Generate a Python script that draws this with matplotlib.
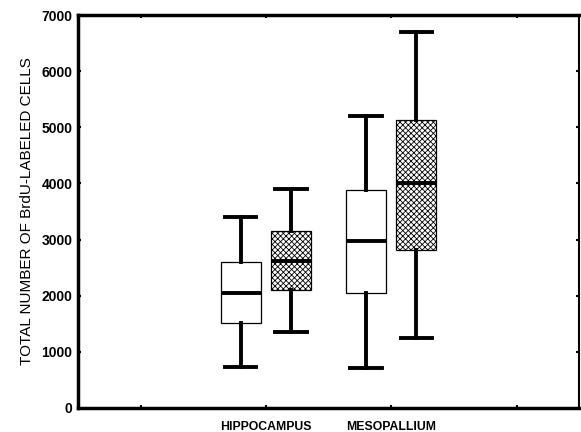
import matplotlib
matplotlib.use("Agg")
import matplotlib.pyplot as plt

plt.rcParams['font.family'] = ['Liberation Sans', 'DejaVu Sans']
plt.rcParams['hatch.linewidth'] = 0.6

# Data
regions = ["HIPPOCAMPUS", "MESOPALLIUM"]
groups = ["white", "hatched"]
whislo = [730, 1350, 710, 1250]
q1 = [1520, 2100, 2050, 2820]
med = [2050, 2620, 2980, 4000]
q3 = [2600, 3150, 3880, 5130]
whishi = [3400, 3900, 5200, 6700]
positions = [1.3, 1.7, 2.3, 2.7]
hatches = ["", "xxxxxx", "", "xxxxxx"]
yticks = [0, 1000, 2000, 3000, 4000, 5000, 6000, 7000]
xticks = [0.5, 1.5, 2.5, 3.5]
label_pos = [1.5, 2.5]

fig = plt.figure(figsize=(5.81, 4.32), dpi=100)
ax = fig.add_axes([0.134, 0.056, 0.863, 0.909])

stats = []
for i in range(len(positions)):
    stats.append(dict(whislo=whislo[i], q1=q1[i], med=med[i], q3=q3[i],
                      whishi=whishi[i], fliers=[]))

bp = ax.bxp(stats, positions=positions, widths=0.32, showfliers=False,
            patch_artist=True, manage_ticks=False,
            boxprops=dict(linewidth=0.9, edgecolor='black', facecolor='white'),
            medianprops=dict(linewidth=2.8, color='black', solid_capstyle='butt'),
            whiskerprops=dict(linewidth=2.8, color='black'),
            capprops=dict(linewidth=2.8, color='black'),
            capwidths=0.25)
for patch, h in zip(bp['boxes'], hatches):
    patch.set_hatch(h)
ax.set_xlim(0, 4)
ax.set_ylim(0, 7000)

ax.set_yticks(yticks)
ax.set_yticklabels([str(v) for v in yticks], fontsize=10, fontweight='bold')
ax.set_xticks(xticks)
ax.set_xticklabels([])
ax.tick_params(direction='in', length=2, width=1.5, top=True, right=True, pad=3)
ax.tick_params(axis='y', pad=4)

for x, lab in zip(label_pos, regions):
    ax.text(x, -230, lab, ha='center', va='top', fontsize=8.8, fontweight='bold')

ax.set_ylabel("TOTAL NUMBER OF BrdU-LABELED CELLS", fontsize=11, labelpad=5)

for s in ['left', 'bottom', 'top']:
    ax.spines[s].set_linewidth(2.5)
ax.spines['right'].set_linewidth(1.5)

fig.savefig("out.png", dpi=100)
